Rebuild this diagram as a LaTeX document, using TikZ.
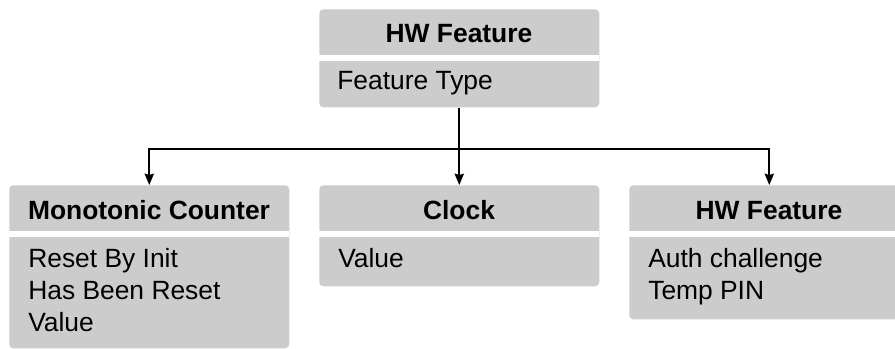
\documentclass[tikz,border=0pt]{standalone}
\usepackage{fontspec}
\setmainfont{Liberation Sans}
\usetikzlibrary{arrows.meta}
\begin{document}
\begin{tikzpicture}[x=0.75pt,y=-0.75pt,
  classbox/.style={fill=boxgray,draw=none,rounded corners=3pt,minimum width=210pt,inner sep=0pt,anchor=north west},
  gapbar/.style={fill=white,draw=none},
  headtxt/.style={font=\fontsize{19.8}{24}\selectfont\bfseries,anchor=base,inner sep=0pt},
  bodytxt/.style={font=\fontsize{19.8}{24}\selectfont,anchor=base west,inner sep=0pt},
  conn/.style={line width=1.2pt,-{Stealth[length=8.5pt,width=7pt,inset=1pt]}}]
\definecolor{boxgray}{HTML}{CCCCCC}
\useasboundingbox (0,0) rectangle (895,349);
\clip (0,0) rectangle (895,349);
% boxes
\node[classbox,minimum height=73.5pt] (top) at (319,9) {};
\node[classbox,minimum height=122.25pt] (mono) at (9,185) {};
\node[classbox,minimum height=75.75pt] (clock) at (319,185) {};
\node[classbox,minimum height=100.5pt] (hw) at (629,185) {};
% white separators
\fill[gapbar] (319,55) rectangle (599,61);
\fill[gapbar] (9,231) rectangle (289,237);
\fill[gapbar] (319,231) rectangle (599,237);
\fill[gapbar] (629,231) rectangle (909,237);
% texts
\node[headtxt] (topH) at (459,43) {HW Feature};
\node[bodytxt] (topB) at (337,90) {Feature Type};
\node[headtxt] (monoH) at (149,219) {Monotonic Counter};
\node[bodytxt] (monoB1) at (28,267) {Reset By Init};
\node[bodytxt] (monoB2) at (28,299) {Has Been Reset};
\node[bodytxt] (monoB3) at (28,331) {Value};
\node[headtxt] (clockH) at (459,219) {Clock};
\node[bodytxt] (clockB) at (338,267) {Value};
\node[headtxt] (hwH) at (769,219) {HW Feature};
\node[bodytxt] (hwB1) at (648,267) {Auth challenge};
\node[bodytxt] (hwB2) at (648,299) {Temp PIN};
% connectors
\coordinate (split) at (459,149);
\draw[conn] (top.south) -- (clock.north);
\draw[conn] (split) -| (mono.north);
\draw[conn] (split) -| (hw.north);
\end{tikzpicture}
\end{document}
